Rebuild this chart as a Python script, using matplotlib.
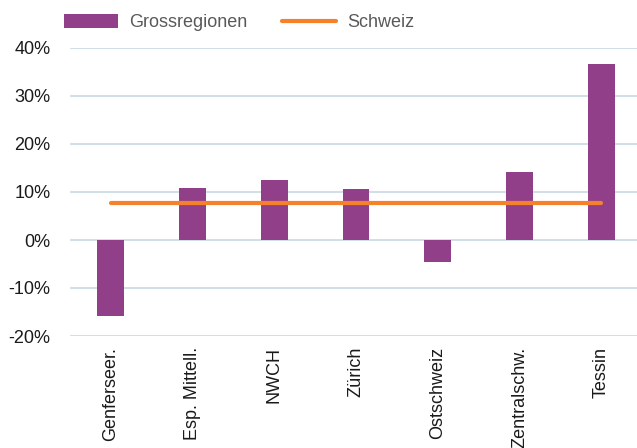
import numpy as np
import matplotlib.pyplot as plt
from matplotlib.ticker import FuncFormatter

plt.rcParams['font.family'] = ['Liberation Sans', 'DejaVu Sans']

regions = ["Genferseer.", "Esp. Mittell.", "NWCH", "Zürich", "Ostschweiz", "Zentralschw.", "Tessin"]
growth = [-15.8, 10.8, 12.5, 10.6, -4.6, 14.2, 36.6]
schweiz = [7.7] * len(regions)

W, H = 637, 448
fig = plt.figure(figsize=(W / 100, H / 100), dpi=100)
ax = fig.add_axes([70 / W, (H - 336) / H, (642 - 70) / W, 288 / H])

x = np.arange(len(regions))
bars = ax.bar(x, growth, width=0.33, color="#923f8a", label="Grossregionen", zorder=3)
line, = ax.plot(x, schweiz, color="#f5822a", lw=3, solid_capstyle="round", label="Schweiz", zorder=4)

ax.set_xlim(-0.5, len(regions) - 0.5)
ax.set_ylim(-20, 40)
ax.set_yticks(np.arange(-20, 41, 10))
ax.yaxis.set_major_formatter(FuncFormatter(lambda v, p: f"{v:.0f}%"))
ax.grid(axis="y", color="#c9d9e1", lw=1.2, zorder=0)
ax.set_axisbelow(True)
for s in ax.spines.values():
    s.set_visible(False)
ax.tick_params(length=0, labelsize=13, colors="#1a1a1a", pad=14)
ax.set_xticks(x)
ax.set_xticklabels(regions, rotation=90, va="top")
ax.tick_params(axis="x", pad=8)

fig.legend([bars, line], ["Grossregionen", "Schweiz"], loc="upper left",
           bbox_to_anchor=(48 / W, 1.005), ncol=2, frameon=False,
           fontsize=13, labelcolor="#595959", handlelength=3.0, handleheight=0.8,
           columnspacing=1.9, handletextpad=0.6)

fig.savefig("out.png", dpi=100)
